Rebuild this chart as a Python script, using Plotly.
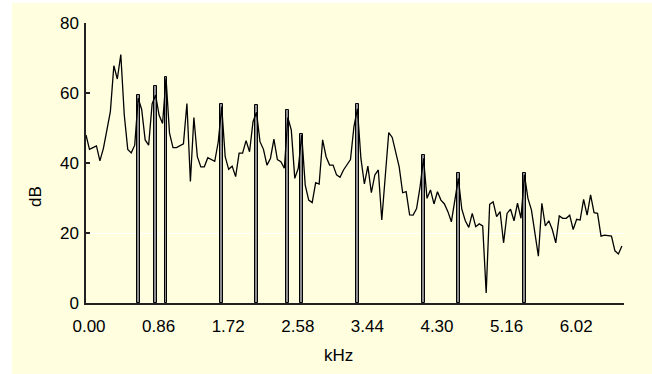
import plotly.graph_objects as go

# ---- data ----
bin_step_khz = 0.043
spectrum_db = [
    48.0, 43.9, 44.4, 44.9, 40.6, 44.2, 49.4, 54.7, 67.8, 64.0,
    71.0, 53.7, 43.9, 42.9, 45.1, 58.5, 55.3, 46.6, 45.1, 56.9,
    59.4, 53.7, 51.3, 64.2, 48.5, 44.4, 44.4, 45.0, 45.5, 57.0,
    34.7, 53.0, 41.8, 38.9, 38.9, 41.5, 40.9, 40.5, 46.0, 56.1,
    41.8, 38.2, 39.1, 36.1, 42.8, 42.8, 46.4, 43.2, 51.8, 54.5,
    46.1, 43.9, 39.4, 41.3, 46.8, 41.0, 40.4, 38.5, 53.0, 49.4,
    35.6, 38.5, 48.0, 33.7, 29.4, 28.7, 34.4, 34.0, 46.6, 41.8,
    39.4, 39.4, 36.6, 35.9, 38.0, 39.7, 41.0, 50.4, 55.5, 41.3,
    34.0, 39.1, 31.5, 36.6, 38.0, 23.7, 36.2, 48.7, 47.3, 42.8,
    38.9, 31.5, 31.8, 25.2, 25.1, 27.0, 33.2, 41.3, 29.9, 32.3,
    28.3, 31.8, 29.4, 28.3, 26.1, 23.2, 29.4, 35.6, 26.8, 23.5,
    21.6, 25.6, 21.8, 22.6, 22.0, 2.9, 28.2, 28.9, 24.7, 26.1,
    17.2, 25.6, 26.8, 23.5, 28.5, 24.2, 36.6, 29.9, 26.6, 19.9,
    13.4, 28.5, 22.0, 23.5, 21.0, 17.2, 24.9, 24.2, 24.2, 25.1,
    21.0, 23.9, 23.7, 29.6, 25.1, 30.9, 25.8, 25.6, 19.1, 19.4,
    19.3, 19.1, 14.9, 14.0, 16.3,
]
freq_khz = [i * bin_step_khz for i in range(len(spectrum_db))]

peak_khz = [0.645, 0.860, 0.989, 1.677, 2.107, 2.494, 2.666, 3.354, 4.171, 4.601, 5.418]
peak_db = [59.4, 62.0, 64.5, 56.9, 56.6, 55.1, 48.3, 56.9, 42.3, 37.2, 37.2]

x_tick_vals = [0.0, 0.86, 1.72, 2.58, 3.44, 4.30, 5.16, 6.02]
x_tick_text = ["0.00", "0.86", "1.72", "2.58", "3.44", "4.30", "5.16", "6.02"]
y_tick_vals = [0, 20, 40, 60, 80]
grid_vals = [20]

BG = "#FFFFE0"
FONT = "Arial, Liberation Sans, sans-serif"

fig = go.Figure()
fig.add_trace(go.Bar(
    x=peak_khz, y=peak_db, width=0.036,
    marker=dict(color="#8c8c8c", line=dict(color="black", width=1)),
    hoverinfo="skip", showlegend=False,
))
fig.add_trace(go.Scatter(
    x=freq_khz, y=spectrum_db, mode="lines",
    line=dict(color="black", width=1.3),
    showlegend=False,
))
fig.add_trace(go.Scatter(x=[None], y=[None], yaxis="y2", showlegend=False,
                         hoverinfo="skip"))

fig.update_layout(
    width=652, height=374,
    margin=dict(l=86, r=28, t=23, b=71),
    paper_bgcolor="white", plot_bgcolor=BG,
    font=dict(family=FONT, size=17, color="black"),
    bargap=0,
    xaxis=dict(
        range=[0, 6.648], showgrid=False, zeroline=False,
        showline=True, linecolor="#222", linewidth=1.5,
        tickvals=x_tick_vals, ticktext=x_tick_text, ticks="",
        ticklabelshift=3, ticklabelstandoff=7,
        tickfont=dict(size=17),
    ),
    yaxis=dict(
        range=[0, 80], zeroline=False, showgrid=False,
        showline=True, linecolor="#222", linewidth=1.5,
        tickvals=y_tick_vals, ticks="inside", ticklen=4, tickwidth=1.5,
        tickcolor="#222", ticklabelstandoff=2,
        tickfont=dict(size=17),
    ),
    # only the 20 dB grid line is visible in the reference
    yaxis2=dict(
        overlaying="y", range=[0, 80], tickvals=grid_vals, showticklabels=False,
        showgrid=True, gridcolor="white", gridwidth=1, zeroline=False,
        showline=False, ticks="",
    ),
    shapes=[
        # cream panel behind everything, leaving a thin white edge top/left
        dict(type="rect", xref="paper", yref="paper", x0=-0.1375, x1=1.2,
             y0=-0.5, y1=1.0714, fillcolor=BG, line=dict(width=0), layer="below"),
    ],
    annotations=[
        dict(text="dB", xref="paper", yref="paper", x=-0.0929, y=0.379,
             showarrow=False, textangle=-90, font=dict(size=17),
             xanchor="center", yanchor="middle"),
        dict(text="kHz", xref="paper", yref="paper", x=0.470, y=-0.186,
             showarrow=False, font=dict(size=17),
             xanchor="center", yanchor="middle"),
    ],
)

fig.write_html(
    "out.html",
    config={"displayModeBar": False},
    post_script="document.body.style.margin='0px';document.body.style.overflow='hidden';",
)
